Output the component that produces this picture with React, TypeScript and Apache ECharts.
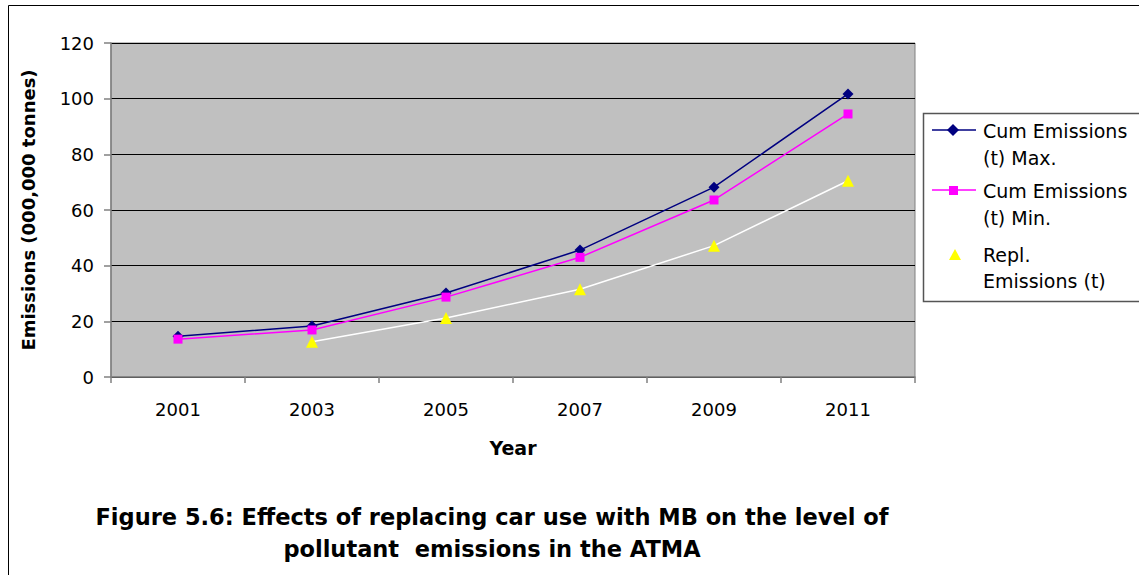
import React, { useEffect, useRef } from "react";
import * as echarts from "echarts";

const years = ["2001", "2003", "2005", "2007", "2009", "2011"];
const cumMax = [14.6, 18.3, 30.2, 45.6, 68.2, 101.7];
const cumMin = [13.6, 16.9, 28.7, 43.0, 63.6, 94.5];
const repl = [null, 12.7, 21.2, 31.5, 47.2, 70.5];
const legendNames = ["Cum Emissions\n(t) Max.", "Cum Emissions\n(t) Min.", "Repl.\nEmissions (t)"];

const FONT = "'DejaVu Sans', sans-serif";

export default function App() {
  const ref = useRef<HTMLDivElement>(null);
  useEffect(() => {
    const chart = echarts.init(ref.current!, null, { renderer: "svg" });
    const option: any = {
      animation: false,
      backgroundColor: "#ffffff",
      textStyle: { fontFamily: FONT },
      grid: {
        left: 111,
        top: 43,
        width: 804,
        height: 334,
        show: true,
        backgroundColor: "#C0C0C0",
        borderColor: "#808080",
        borderWidth: 1,
      },
      xAxis: {
        type: "category",
        data: years,
        boundaryGap: true,
        name: "Year",
        nameLocation: "middle",
        nameGap: 61,
        nameTextStyle: { fontFamily: FONT, fontSize: 19, fontWeight: "bold", color: "#000" },
        axisLine: { lineStyle: { color: "#808080", width: 1.5 } },
        axisTick: { show: true, length: 6, lineStyle: { color: "#808080", width: 1.5 } },
        axisLabel: { fontFamily: FONT, fontSize: 18, color: "#000", margin: 23 },
      },
      yAxis: {
        type: "value",
        min: 0,
        max: 120,
        interval: 20,
        name: "Emissions (000,000 tonnes)",
        nameLocation: "middle",
        nameGap: 74,
        nameTextStyle: { fontFamily: FONT, fontSize: 18, fontWeight: "bold", color: "#000" },
        axisLine: { show: true, lineStyle: { color: "#808080", width: 1.5 } },
        axisTick: { show: true, length: 7, lineStyle: { color: "#808080", width: 1.5 } },
        axisLabel: { fontFamily: FONT, fontSize: 18, color: "#000", margin: 17 },
        splitLine: { show: true, lineStyle: { color: "#000", width: 1 } },
      },
      series: [
        {
          name: legendNames[0],
          type: "line",
          data: cumMax,
          symbol: "diamond",
          symbolSize: 11,
          itemStyle: { color: "#000080" },
          lineStyle: { color: "#000080", width: 1.5 },
          z: 4,
        },
        {
          name: legendNames[1],
          type: "line",
          data: cumMin,
          symbol: "rect",
          symbolSize: 9,
          itemStyle: { color: "#FF00FF" },
          lineStyle: { color: "#FF00FF", width: 1.5 },
          z: 5,
        },
        {
          name: legendNames[2],
          type: "line",
          data: repl,
          symbol: "triangle",
          symbolSize: 12,
          itemStyle: { color: "#FFFF00" },
          lineStyle: { color: "#FFFFFF", width: 1.5 },
          z: 3,
        },
      ],
      graphic: [
        {
          type: "rect",
          shape: { x: 8.5, y: 5.5, width: 1200, height: 700 },
          style: { fill: "none", stroke: "#000", lineWidth: 1 },
          silent: true,
          z: -10,
        },
        {
          type: "rect",
          shape: { x: 923.5, y: 113.5, width: 300, height: 188 },
          style: { fill: "#fff", stroke: "#555", lineWidth: 1.5 },
          z: 10,
        },
        { type: "line", shape: { x1: 932, y1: 130, x2: 976, y2: 130 }, style: { stroke: "#000080", lineWidth: 1.5 }, z: 11 },
        { type: "polygon", shape: { points: [[953, 124], [959, 130], [953, 136], [947, 130]] }, style: { fill: "#000080" }, z: 12 },
        { type: "text", x: 983, y: 117, style: { text: legendNames[0], font: `19px ${FONT}`, fill: "#000", lineHeight: 27, verticalAlign: "top" }, z: 12 },
        { type: "line", shape: { x1: 932, y1: 190, x2: 976, y2: 190 }, style: { stroke: "#FF00FF", lineWidth: 1.5 }, z: 11 },
        { type: "rect", shape: { x: 949, y: 186, width: 9, height: 9 }, style: { fill: "#FF00FF" }, z: 12 },
        { type: "text", x: 983, y: 177, style: { text: legendNames[1], font: `19px ${FONT}`, fill: "#000", lineHeight: 27, verticalAlign: "top" }, z: 12 },
        { type: "polygon", shape: { points: [[955, 249], [961, 260], [949, 260]] }, style: { fill: "#FFFF00" }, z: 12 },
        { type: "text", x: 983, y: 242, style: { text: legendNames[2], font: `19px ${FONT}`, fill: "#000", lineHeight: 26, verticalAlign: "top" }, z: 12 },
        {
          type: "text",
          x: 492,
          y: 501,
          style: {
            text: "Figure 5.6: Effects of replacing car use with MB on the level of\npollutant  emissions in the ATMA",
            font: `bold 22.5px ${FONT}`,
            fill: "#000",
            align: "center",
            verticalAlign: "top",
            lineHeight: 32,
          },
        },
      ],
    };
    chart.setOption(option);
    return () => chart.dispose();
  }, []);
  return (
    <div
      ref={ref}
      style={{ position: "absolute", left: 0, top: 0, width: 1139, height: 575 }}
    />
  );
}
